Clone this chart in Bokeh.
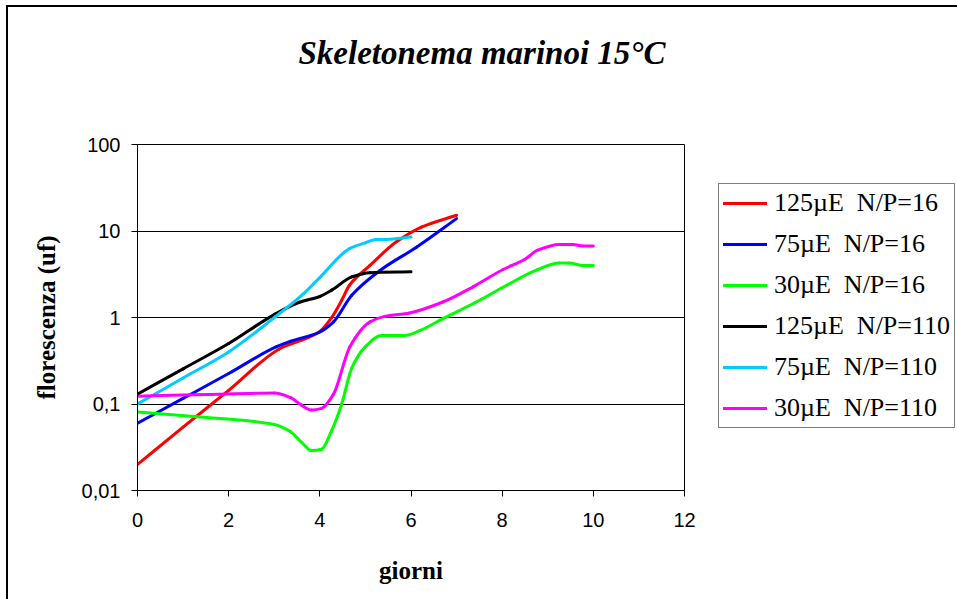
import math
from bokeh.plotting import figure
from bokeh.models import FixedTicker, Legend, LegendItem, Range1d, Title, ColumnDataSource
from bokeh.embed import file_html
from bokeh.resources import INLINE

# ---- data ----
red_x = [0, 1, 2, 3.1, 4.0, 4.26, 4.48, 4.65, 5.1, 5.68, 6.23, 7.0]
red_y = [0.02, 0.054, 0.144, 0.43, 0.69, 1.0, 1.58, 2.36, 4.0, 7.5, 11.1, 15.2]

blue_x = [0, 1, 2, 3.05, 3.35, 4.0, 4.3, 4.7, 5.32, 6.12, 7.0]
blue_y = [0.06, 0.116, 0.225, 0.46, 0.53, 0.68, 0.89, 1.81, 3.5, 6.5, 13.9]

green_x = [0, 1.3, 3.0, 3.35, 3.6, 3.82, 4.04, 4.25, 4.48, 4.7, 5.0, 5.35,
           5.86, 6.2, 6.7, 7.43, 8.1, 8.75, 9.25, 9.47, 9.77, 10.0]
green_y = [0.081, 0.071, 0.058, 0.048, 0.036, 0.029, 0.030, 0.048, 0.10, 0.26,
           0.46, 0.62, 0.62, 0.71, 0.97, 1.51, 2.36, 3.52, 4.27, 4.27, 4.0, 4.0]

black_x = [0, 1, 2, 3.0, 3.55, 4.0, 4.26, 4.7, 5.1, 6.0]
black_y = [0.13, 0.255, 0.5, 1.08, 1.5, 1.75, 2.07, 2.95, 3.3, 3.37]

cyan_x = [0, 1, 2.0, 2.95, 3.65, 4.0, 4.66, 5.0, 5.24, 5.46, 6.0]
cyan_y = [0.10, 0.2, 0.40, 0.95, 1.9, 2.9, 6.3, 7.3, 8.0, 8.0, 8.5]

magenta_x = [0, 1.5, 3.0, 3.35, 3.6, 3.82, 4.04, 4.3, 4.66, 5.1, 5.42, 5.97, 6.7,
             7.36, 8.02, 8.49, 8.78, 9.25, 9.55, 9.77, 10.0]
magenta_y = [0.123, 0.129, 0.134, 0.119, 0.097, 0.085, 0.089, 0.13, 0.46, 0.89, 1.03,
             1.13, 1.51, 2.26, 3.59, 4.68, 6.0, 7.0, 7.0, 6.7, 6.7]

series_labels = ["125µE  N/P=16", "75µE  N/P=16", "30µE  N/P=16",
                 "125µE  N/P=110", "75µE  N/P=110", "30µE  N/P=110"]
series_colors = ["#ff0000", "#0000ff", "#00ff00", "#000000", "#00ccff", "#ff00ff"]

x_ticks = [0, 2, 4, 6, 8, 10, 12]
y_ticks = [0.01, 0.1, 1, 10, 100]
y_tick_labels = ["0,01", "0,1", "1", "10", "100"]

title_text = "Skeletonema marinoi 15°C"
x_title = "giorni"
y_title = "florescenza (uf)"


def smooth_segments(xv, yv):
    """Bezier control points (monotone cubic, in x / log-y space) for a smoothed line."""
    lv = [math.log10(v) for v in yv]
    n = len(xv)
    h = [xv[k + 1] - xv[k] for k in range(n - 1)]
    dl = [(lv[k + 1] - lv[k]) / h[k] for k in range(n - 1)]
    m = [0.0] * n
    m[0], m[-1] = dl[0], dl[-1]
    for k in range(1, n - 1):
        if dl[k - 1] * dl[k] <= 0:
            m[k] = 0.0
        else:
            w1 = 2 * h[k] + h[k - 1]
            w2 = h[k] + 2 * h[k - 1]
            m[k] = (w1 + w2) / (w1 / dl[k - 1] + w2 / dl[k])
    d = dict(x0=[], y0=[], x1=[], y1=[], cx0=[], cy0=[], cx1=[], cy1=[])
    for k in range(n - 1):
        t = h[k] / 3
        d["x0"].append(xv[k]); d["y0"].append(yv[k])
        d["x1"].append(xv[k + 1]); d["y1"].append(yv[k + 1])
        d["cx0"].append(xv[k] + t); d["cy0"].append(10 ** (lv[k] + m[k] * t))
        d["cx1"].append(xv[k + 1] - t); d["cy1"].append(10 ** (lv[k + 1] - m[k + 1] * t))
    return d


# ---- figure ----
OX, OY = 8, 7            # outer chart border offset on the page
W, H = 957 - OX, 599 - OY
FL, FT, FW, FH = 137 - OX, 144 - OY, 547, 346

p = figure(width=W, height=H, frame_width=FW, frame_height=FH,
           y_axis_type="log", x_range=Range1d(0, 12), y_range=Range1d(0.01, 100),
           output_backend="svg", toolbar_location=None,
           min_border_left=FL, min_border_top=FT,
           min_border_right=W - FL - FW, min_border_bottom=H - FT - FH,
           styles={"margin-left": "6px", "margin-top": "5px",
                   "border-left": "2px solid black", "border-top": "2px solid black"})
p.background_fill_color = "white"
p.border_fill_color = "white"
p.outline_line_color = "black"
p.outline_line_width = 1

spacer = Title(text=" ", text_font_size="10px", standoff=56)
p.add_layout(spacer, "above")
main_title = Title(text=title_text, align="left", offset=161, standoff=10,
                   text_font="Liberation Serif", text_font_style="bold italic",
                   text_font_size="33px", text_color="black")
p.add_layout(main_title, "above")

p.xgrid.grid_line_color = None
p.ygrid.grid_line_color = "black"
p.ygrid.grid_line_width = 1
p.ygrid.ticker = FixedTicker(ticks=y_ticks)

p.xaxis.ticker = FixedTicker(ticks=x_ticks)
p.yaxis.ticker = FixedTicker(ticks=y_ticks)
p.yaxis.major_label_overrides = {t: l for t, l in zip(y_ticks, y_tick_labels)}
for ax in (p.xaxis, p.yaxis):
    ax.axis_line_color = "black"
    ax.major_tick_line_color = "black"
    ax.major_tick_in = 0
    ax.major_tick_out = 6
    ax.minor_tick_line_color = None
    ax.major_label_text_font = "Liberation Sans"
    ax.major_label_text_font_size = "20px"
    ax.major_label_text_color = "black"
    ax.axis_label_text_font = "Liberation Serif"
    ax.axis_label_text_font_style = "bold"
    ax.axis_label_text_font_size = "25px"
    ax.axis_label_text_color = "black"
p.xaxis.major_label_standoff = 16
p.yaxis.major_label_standoff = 11
p.xaxis.axis_label = x_title
p.yaxis.axis_label = y_title
p.xaxis.axis_label_standoff = 27
p.yaxis.axis_label_standoff = 19

xs = [red_x, blue_x, green_x, black_x, cyan_x, magenta_x]
ys = [red_y, blue_y, green_y, black_y, cyan_y, magenta_y]
items = []
for x, y, c, lab in zip(xs, ys, series_colors, series_labels):
    src = ColumnDataSource(smooth_segments(x, y))
    r = p.bezier(x0="x0", y0="y0", x1="x1", y1="y1", cx0="cx0", cy0="cy0",
                 cx1="cx1", cy1="cy1", source=src, line_color=c, line_width=3,
                 line_cap="round")
    items.append(LegendItem(label=lab, renderers=[r]))

legend = Legend(items=items, location=(718 - 684, 62),
                border_line_color="black", border_line_width=1,
                background_fill_color="white", background_fill_alpha=1,
                label_text_font="Liberation Serif", label_text_font_size="26px",
                label_text_color="black",
                glyph_width=44, glyph_height=26, label_height=26,
                label_standoff=7, spacing=11, padding=4, margin=0)
p.add_layout(legend, "right")

open("out.html", "w").write(file_html(p, INLINE))
